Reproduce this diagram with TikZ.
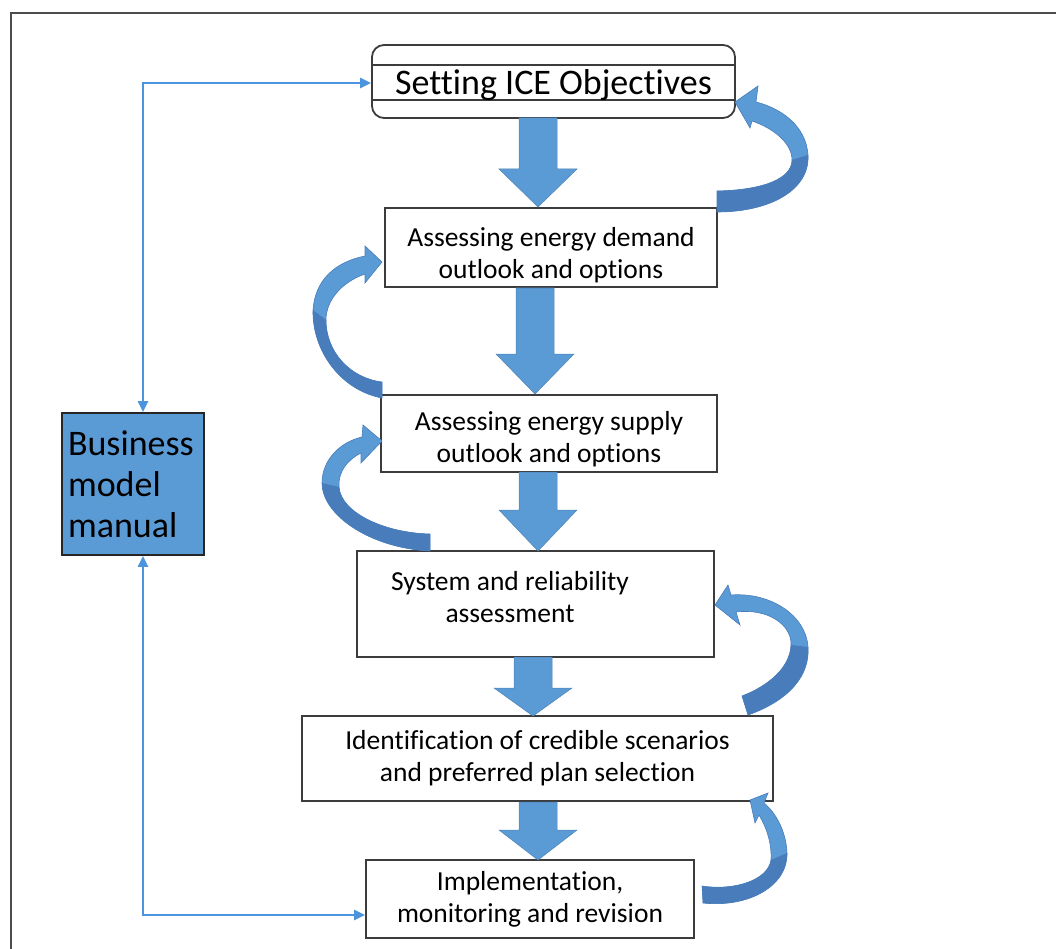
\documentclass[tikz,border=0pt]{standalone}
\usepackage{fontspec}
\setmainfont[Ligatures=NoCommon]{Carlito}
\usepackage{tikz}
\usetikzlibrary{arrows.meta}
\definecolor{officeblue}{RGB}{91,155,213}
\definecolor{twistblue}{RGB}{72,124,186}
\definecolor{lineblue}{RGB}{76,148,222}
\definecolor{boxgray}{RGB}{60,60,60}
% wide down arrow: x centre, top, start of head, tip
\newcommand{\blockarrow}[4]{\filldraw[BlockArrow] (#1-19,#2) -- (#1+19,#2) -- (#1+19,#3) -- (#1+39,#3) -- (#1,#4) -- (#1-39,#3) -- (#1-19,#3) -- cycle;}

\begin{document}
\begin{tikzpicture}[x=1pt,y=-1pt]
			\tikzstyle{StepBox}    = [draw=boxgray, line width=1.8pt, fill=white, align=center, inner sep=0pt]
			\tikzstyle{StepText}   = [font=\fontsize{27.5}{32}\selectfont, align=center]
			\tikzstyle{BlockArrow} = [fill=officeblue, draw=officeblue!85!black, line width=0.5pt]
			\tikzstyle{CurveArrow} = [fill=officeblue, draw=twistblue, line width=0.6pt]
			\tikzstyle{Feedback}   = [<->, >={Triangle[length=11pt,width=10pt]}, draw=lineblue, line width=2.6pt]
			\useasboundingbox (0,0) rectangle (1056,949);
			\draw[gray!60!black, line width=2pt] (11,13) rectangle (1090,990);

			% steps
			\node[StepBox, rounded corners=12pt, minimum width=363pt, minimum height=73pt] (ice) at (553.5,81.5) {};
			\draw[boxgray, line width=1.5pt] (ice.west |- 0,65) -- (ice.east |- 0,65);
			\draw[boxgray, line width=1.5pt] (ice.west |- 0,100) -- (ice.east |- 0,100);
			\node[font=\fontsize{36}{40}\selectfont] (icetxt) at (553.5,85) {Setting ICE Objectives};
			\node[StepBox, minimum width=332pt, minimum height=79pt] (demand) at (551,247.5) {};
			\node[StepText] (demandtxt) at (551,255) {Assessing energy demand\\outlook and options};
			\node[StepBox, minimum width=336pt, minimum height=77pt] (supply) at (549,433.5) {};
			\node[StepText] (supplytxt) at (549,439) {Assessing energy supply\\outlook and options};
			\node[StepBox, minimum width=357pt, minimum height=106pt] (system) at (535.5,604) {};
			\node[StepText] (systemtxt) at (510,597) {System and reliability\\assessment};
			\node[StepBox, StepText, minimum width=471pt, minimum height=85pt] (scen) at (537.5,758.5)
				{Identification of credible scenarios\\and preferred plan selection};
			\node[StepBox, StepText, minimum width=328pt, minimum height=78pt] (impl) at (530,899)
				{Implementation,\\monitoring and revision};
			\node[draw=black!85, line width=1.8pt, fill=officeblue, minimum width=142pt, minimum height=142pt,
				text width=130pt, inner xsep=6pt, align=left, font=\fontsize{36}{41}\selectfont] (bmm) at (133,484)
				{Business\\model\\manual};

			% manual links
			\draw[Feedback] ([xshift=10pt]bmm.north) |- ([yshift=-1.5pt]ice.west);
			\draw[Feedback] ([xshift=10pt]bmm.south) |- ([yshift=-16pt]impl.west);

			% forward flow
			\blockarrow{538}{118}{169}{207}
			\blockarrow{535}{288}{354}{394}
			\blockarrow{538}{472}{510}{551}
			\blockarrow{533}{657}{688}{716}
			\blockarrow{538}{802}{830}{860}

			% loops back
			\filldraw[CurveArrow] (717,212) .. controls (770,212) and (810,190) .. (808,155)
				.. controls (806,125) and (780,108) .. (756,102) -- (758,86) -- (735,102) -- (750,128) -- (752,121)
				.. controls (773,128) and (792,143) .. (792,160) .. controls (792,178) and (765,190) .. (717,191) -- cycle;
			\fill[twistblue] (808,155) .. controls (810,190) and (770,212) .. (717,212) -- (717,191)
				.. controls (765,190) and (792,178) .. (792,160) -- cycle;

			\filldraw[CurveArrow] (382,398) .. controls (340,390) and (312,350) .. (313,310)
				.. controls (315,280) and (335,262) .. (365,256) -- (365,246) -- (382,262) -- (365,283) -- (365,274)
				.. controls (342,282) and (326,300) .. (326,320) .. controls (326,352) and (350,378) .. (382,382) -- cycle;
			\fill[twistblue] (313,310) .. controls (312,350) and (340,390) .. (382,398) -- (382,382)
				.. controls (350,378) and (326,352) .. (326,320) -- cycle;

			\filldraw[CurveArrow] (430,551) .. controls (370,548) and (322,515) .. (322,483)
				.. controls (322,460) and (340,442) .. (362,437) -- (363,425) -- (382,441) -- (361,463) -- (361,453)
				.. controls (347,460) and (338,472) .. (339,487) .. controls (341,513) and (385,533) .. (430,534) -- cycle;
			\fill[twistblue] (322,483) .. controls (322,515) and (370,548) .. (430,551) -- (430,534)
				.. controls (385,533) and (341,513) .. (339,487) -- cycle;

			\filldraw[CurveArrow] (748,715) .. controls (790,700) and (810,675) .. (808,647)
				.. controls (806,615) and (770,592) .. (731,595) -- (728,585) -- (715,605) -- (740,625) -- (736,612)
				.. controls (768,608) and (792,625) .. (791,645) .. controls (790,668) and (768,686) .. (742,696) -- cycle;
			\fill[twistblue] (808,647) .. controls (810,675) and (790,700) .. (748,715) -- (742,696)
				.. controls (768,686) and (790,668) .. (791,645) -- cycle;

			\filldraw[CurveArrow] (703,903) .. controls (750,908) and (788,885) .. (787,853)
				.. controls (786,830) and (775,812) .. (764,803) -- (768,793) -- (750,800) -- (755,823) -- (759,815)
				.. controls (767,828) and (772,845) .. (771,860) .. controls (768,880) and (735,891) .. (702,886) -- cycle;
			\fill[twistblue] (787,853) .. controls (788,885) and (750,908) .. (703,903) -- (702,886)
				.. controls (735,891) and (768,880) .. (771,860) -- cycle;
		\end{tikzpicture}
\end{document}
